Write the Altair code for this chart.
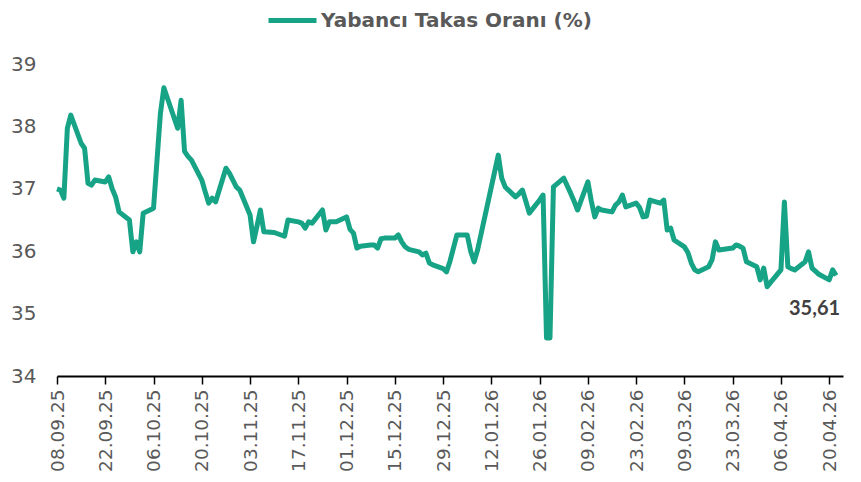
import altair as alt
import pandas as pd

dates = [
    "2025-09-08", "2025-09-09", "2025-09-10", "2025-09-11", "2025-09-12",
    "2025-09-15", "2025-09-16", "2025-09-17", "2025-09-18", "2025-09-19",
    "2025-09-22", "2025-09-23", "2025-09-24", "2025-09-25", "2025-09-26",
    "2025-09-29", "2025-09-30", "2025-10-01", "2025-10-02", "2025-10-03",
    "2025-10-06", "2025-10-07", "2025-10-08", "2025-10-09", "2025-10-13",
    "2025-10-14", "2025-10-15", "2025-10-16", "2025-10-17", "2025-10-20",
    "2025-10-21", "2025-10-22", "2025-10-23", "2025-10-24", "2025-10-27",
    "2025-10-28", "2025-10-30", "2025-10-31", "2025-11-03", "2025-11-04",
    "2025-11-05", "2025-11-06", "2025-11-07", "2025-11-10", "2025-11-11",
    "2025-11-12", "2025-11-13", "2025-11-14", "2025-11-17", "2025-11-18",
    "2025-11-19", "2025-11-20", "2025-11-21", "2025-11-24", "2025-11-25",
    "2025-11-26", "2025-11-27", "2025-11-28", "2025-12-01", "2025-12-02",
    "2025-12-03", "2025-12-04", "2025-12-05", "2025-12-08", "2025-12-09",
    "2025-12-10", "2025-12-11", "2025-12-12", "2025-12-15", "2025-12-16",
    "2025-12-17", "2025-12-18", "2025-12-19", "2025-12-22", "2025-12-23",
    "2025-12-24", "2025-12-25", "2025-12-26", "2025-12-29", "2025-12-30",
    "2025-12-31", "2026-01-02", "2026-01-05", "2026-01-06", "2026-01-07",
    "2026-01-08", "2026-01-14", "2026-01-15", "2026-01-16", "2026-01-19",
    "2026-01-20", "2026-01-21", "2026-01-22", "2026-01-23", "2026-01-26",
    "2026-01-27", "2026-01-28", "2026-01-29", "2026-01-30", "2026-02-02",
    "2026-02-03", "2026-02-04", "2026-02-05", "2026-02-06", "2026-02-09",
    "2026-02-10", "2026-02-11", "2026-02-12", "2026-02-13", "2026-02-16",
    "2026-02-17", "2026-02-18", "2026-02-19", "2026-02-20", "2026-02-23",
    "2026-02-24", "2026-02-25", "2026-02-26", "2026-02-27", "2026-03-02",
    "2026-03-03", "2026-03-04", "2026-03-05", "2026-03-06", "2026-03-09",
    "2026-03-10", "2026-03-11", "2026-03-12", "2026-03-13", "2026-03-16",
    "2026-03-17", "2026-03-18", "2026-03-19", "2026-03-23", "2026-03-24",
    "2026-03-25", "2026-03-26", "2026-03-27", "2026-03-30", "2026-03-31",
    "2026-04-01", "2026-04-02", "2026-04-03", "2026-04-06", "2026-04-07",
    "2026-04-08", "2026-04-09", "2026-04-10", "2026-04-13", "2026-04-14",
    "2026-04-15", "2026-04-16", "2026-04-17", "2026-04-20", "2026-04-21",
    "2026-04-22",
]

values = [
    37.00, 36.98, 36.85, 37.97, 38.18,
    37.73, 37.65, 37.09, 37.06, 37.14,
    37.11, 37.19, 37.00, 36.87, 36.63,
    36.50, 35.99, 36.15, 35.99, 36.61,
    36.69, 37.45, 38.21, 38.62, 37.97,
    38.42, 37.60, 37.52, 37.46, 37.14,
    36.95, 36.77, 36.85, 36.79, 37.33,
    37.25, 37.03, 36.98, 36.58, 36.15,
    36.40, 36.66, 36.31, 36.30, 36.28,
    36.26, 36.24, 36.50, 36.47, 36.45,
    36.37, 36.47, 36.45, 36.66, 36.34,
    36.47, 36.47, 36.47, 36.55, 36.35,
    36.29, 36.05, 36.08, 36.10, 36.10,
    36.05, 36.20, 36.21, 36.21, 36.26,
    36.15, 36.07, 36.03, 35.99, 35.94,
    35.97, 35.81, 35.78, 35.72, 35.67,
    35.84, 36.26, 36.26, 36.00, 35.83,
    36.02, 37.54, 37.17, 37.03, 36.87,
    36.92, 36.98, 36.80, 36.61, 36.82,
    36.90, 34.61, 34.61, 37.03, 37.17,
    37.05, 36.93, 36.80, 36.66, 37.11,
    36.80, 36.55, 36.69, 36.66, 36.63,
    36.74, 36.79, 36.90, 36.71, 36.77,
    36.70, 36.55, 36.56, 36.82, 36.77,
    36.82, 36.34, 36.37, 36.18, 36.07,
    35.98, 35.81, 35.70, 35.67, 35.75,
    35.86, 36.15, 36.02, 36.05, 36.10,
    36.08, 36.05, 35.83, 35.75, 35.54,
    35.73, 35.43, 35.50, 35.70, 36.79,
    35.75, 35.72, 35.70, 35.83, 35.99,
    35.73, 35.68, 35.63, 35.54, 35.70,
    35.61,
]

tick_dates = [
    "2025-09-08", "2025-09-22", "2025-10-06", "2025-10-20", "2025-11-03",
    "2025-11-17", "2025-12-01", "2025-12-15", "2025-12-29", "2026-01-12",
    "2026-01-26", "2026-02-09", "2026-02-23", "2026-03-09", "2026-03-23",
    "2026-04-06", "2026-04-20",
]
y_ticks = [34, 35, 36, 37, 38, 39]
series_name = "Yabancı Takas Oranı (%)"
x_start = "2025-09-08"
x_end = "2026-04-24"

GREEN = "#17A386"
GRAY = "#595959"
FONT = "DejaVu Sans"


def dt(s):
    y, m, d = (int(p) for p in s.split("-"))
    return alt.DateTime(year=y, month=m, date=d)


df = pd.DataFrame({
    "date": [d + "T00:00:00" for d in dates],
    "value": values,
    "series": series_name,
})
last = df.tail(1).copy()
last["label"] = [f"{v:.2f}".replace(".", ",") for v in last["value"]]

x_enc = alt.X(
    "date:T",
    scale=alt.Scale(domain=[dt(x_start), dt(x_end)]),
    axis=alt.Axis(
        values=[dt(t) for t in tick_dates],
        format="%d.%m.%y",
        labelAngle=-90,
        labelFont=FONT,
        labelFontSize=18.5,
        labelColor=GRAY,
        labelPadding=5,
        domainColor="black",
        domainWidth=2,
        tickColor="black",
        tickWidth=1.5,
        tickSize=8,
        grid=False,
        title=None,
        labelOverlap=False,
    ),
)
y_enc = alt.Y(
    "value:Q",
    scale=alt.Scale(domain=[34, 39], nice=False, zero=False),
    axis=alt.Axis(
        values=y_ticks,
        format="d",
        labelFont=FONT,
        labelFontSize=20,
        labelColor=GRAY,
        labelPadding=21,
        domain=False,
        ticks=False,
        grid=False,
        title=None,
    ),
)

line = alt.Chart(df).mark_line(strokeWidth=5, strokeJoin="round").encode(
    x=x_enc,
    y=y_enc,
    color=alt.Color(
        "series:N",
        scale=alt.Scale(range=[GREEN]),
        legend=alt.Legend(
            title=None,
            orient="none",
            legendX=209,
            legendY=-70,
            symbolType="stroke",
            symbolStrokeWidth=5,
            symbolSize=2304,
            symbolStrokeColor=GREEN,
            labelFont=FONT,
            labelFontSize=20,
            labelFontWeight="bold",
            labelColor=GRAY,
            labelOffset=2,
            labelLimit=500,
        ),
    ),
)

label = alt.Chart(last).mark_text(
    align="right", baseline="middle", dx=4, dy=33,
    font="Lato", fontSize=20, fontWeight="bold", color="#404040",
).encode(x="date:T", y="value:Q", text="label:N")

chart = (line + label).properties(
    width=786,
    height=312,
    autosize=alt.AutoSizeParams(type="none"),
    padding={"left": 49, "top": 56, "right": 2, "bottom": 98},
).configure_view(stroke=None)

chart.save("out.html", embed_options={"renderer": "svg", "actions": False})
